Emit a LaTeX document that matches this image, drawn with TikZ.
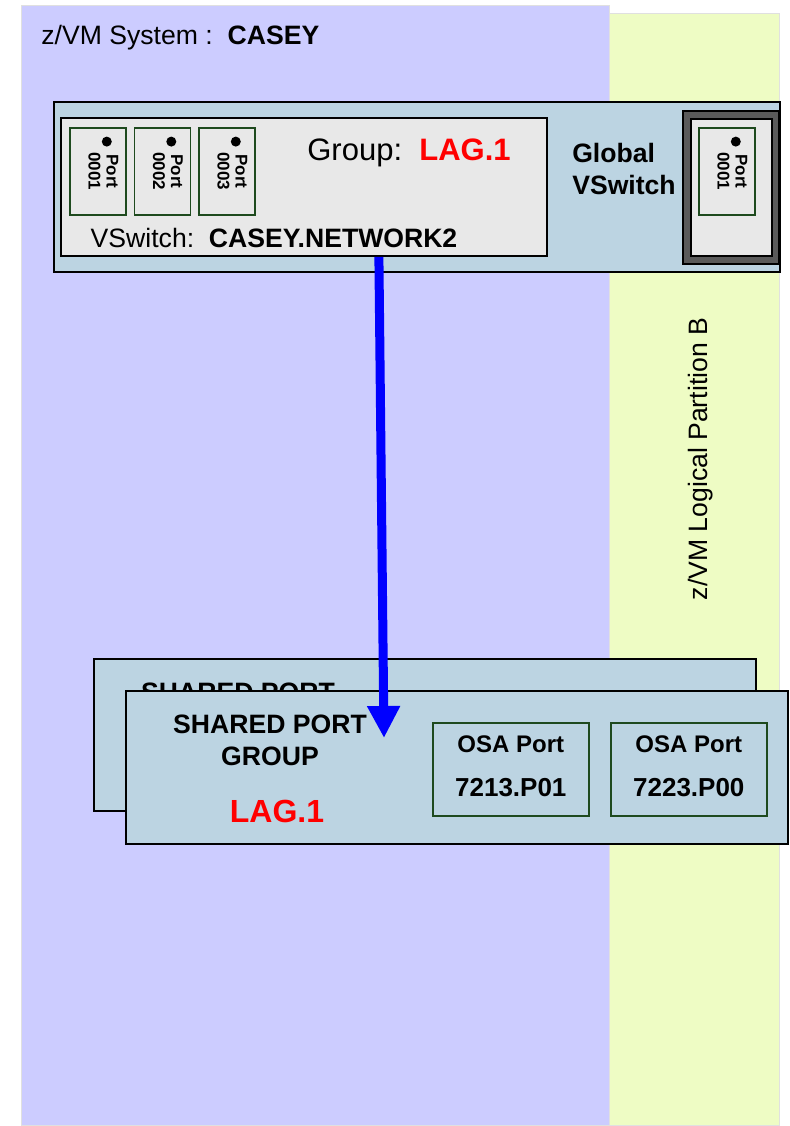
\documentclass[tikz,border=0pt]{standalone}
\usepackage{fontspec}
\setmainfont{Liberation Sans}
\usetikzlibrary{arrows.meta}

\definecolor{sysblue}{HTML}{CCCCFF}
\definecolor{lparyellow}{HTML}{EEFCC4}
\definecolor{boxblue}{HTML}{BCD4E2}
\definecolor{boxgray}{HTML}{E8E8E8}
\definecolor{framegray}{HTML}{5A5A5A}
\definecolor{portgreen}{HTML}{1E4A1E}
\definecolor{lagred}{HTML}{FF0000}

\tikzstyle{panel} = [draw=black!12, line width=0.6pt, anchor=north west, inner sep=0pt]
\tikzstyle{box} = [draw, line width=0.9pt, anchor=north west, inner sep=0pt]
\tikzstyle{port} = [draw=portgreen, fill=boxgray, line width=0.8pt, anchor=north west,
  inner sep=0pt, minimum width=28pt, minimum height=43.5pt]
\tikzstyle{osa} = [draw=portgreen, fill=boxblue, line width=0.8pt, anchor=north west,
  inner sep=0pt, minimum width=78pt, minimum height=46.5pt]
\tikzstyle{txt} = [font=\fontsize{13.3}{16}\selectfont]
\tikzstyle{txtb} = [font=\fontsize{13.3}{16}\selectfont\bfseries]

\begin{document}
\begin{tikzpicture}[x=0.5pt, y=-0.5pt]
\useasboundingbox (0,0) rectangle (789,1126);

% partitions
\node[panel, fill=sysblue, minimum width=294pt, minimum height=560pt] (sys) at (21,5) {};
\node[panel, fill=lparyellow, minimum width=85pt, minimum height=556pt] (lpar) at (609,13) {};
\node[txt, anchor=west, inner sep=0pt] (syslbl) at (41,38) {z/VM System :\ \ \textbf{CASEY}};
\node[txt, rotate=90] (lparlbl) at (701,459) {z/VM Logical Partition B};

% global vswitch
\node[box, fill=boxblue, minimum width=363pt, minimum height=85pt] (vsw) at (53,101) {};
\node[box, fill=boxgray, minimum width=243pt, minimum height=69pt] (grp) at (60,117) {};
\foreach \i/\x in {1/69,2/133.5,3/198}
{
	\node[port] (p\i) at (\x,127) {};
	\fill ([xshift=4.5pt,yshift=-7.3pt]p\i.north) circle (2.5pt);
	\node[rotate=-90, align=center, inner sep=0pt, font=\fontsize{8.5}{9}\selectfont\bfseries]
		at ([xshift=2.75pt]p\i.center) {Port\\000\i};
}
\node[font=\fontsize{15.5}{18}\selectfont] (grplbl) at (409,153) {Group:\ \ \textcolor{lagred}{\textbf{LAG.1}}};
\node[txt] (vswlbl) at (274,238) {VSwitch:\ \ \textbf{CASEY.NETWORK2}};
\node[txtb, align=left] (glbl) at (624,169) {Global\\VSwitch};

% port on the other side
\node[box, fill=framegray, minimum width=48pt, minimum height=76.5pt] (frm) at (682,110) {};
\node[box, fill=boxgray, minimum width=40.5pt, minimum height=68.5pt] (frmin) at (690,118) {};
\node[port] (p4) at (698,127) {};
\fill ([xshift=4.5pt,yshift=-7.3pt]p4.north) circle (2.5pt);
\node[rotate=-90, align=center, inner sep=0pt, font=\fontsize{8.5}{9}\selectfont\bfseries]
	at ([xshift=2.75pt]p4.center) {Port\\0001};

% shared port groups
\node[box, fill=boxblue, minimum width=331pt, minimum height=76pt] (spg2) at (93,658) {};
\node[txtb] (spg2lbl) at (238,692) {SHARED PORT};
\node[box, fill=boxblue, minimum width=331pt, minimum height=76.5pt] (spg) at (125,690) {};
\node[txtb] (spglbl) at (270,724) {SHARED PORT};
\node[txtb] (spggrp) at (270,756) {GROUP};
\node[font=\fontsize{16}{19}\selectfont\bfseries, text=lagred] (spglag) at (277,811) {LAG.1};

\node[osa] (osa1) at (432,722) {};
\node[osa] (osa2) at (610,722) {};
\foreach \n/\t in {osa1/7213.P01,osa2/7223.P00}
{
	\node[font=\fontsize{12}{14}\selectfont\bfseries] at ([yshift=-11pt]\n.north) {OSA Port};
	\node[font=\fontsize{13}{15}\selectfont\bfseries] at ([yshift=-33pt]\n.north) {\t};
}

% uplink
\coordinate (tip) at (384,738);
\draw[blue, line width=4.5pt, -{Triangle[width=15.5pt,length=16pt]}] ([xshift=37.5pt]grp.south) -- (tip);

\end{tikzpicture}
\end{document}
